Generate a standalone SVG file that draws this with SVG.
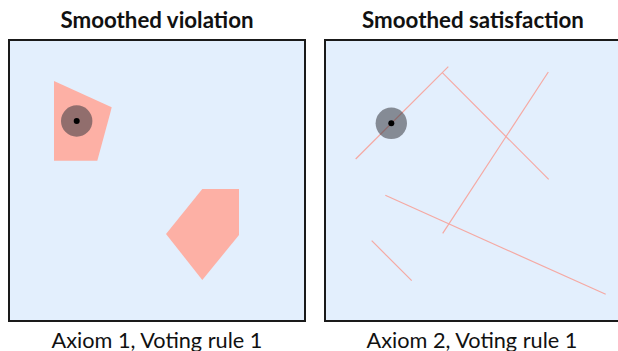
<svg xmlns="http://www.w3.org/2000/svg" width="618" height="351" viewBox="0 0 618 351">
<style>
.panel{fill:#e3effd;stroke:#1a1a1a;stroke-width:2}
.title{font-family:Lato,"Open Sans",sans-serif;font-weight:bold;font-size:22.3px;fill:#111;text-anchor:middle}
.label{font-family:Lato,"Open Sans",sans-serif;font-size:21.7px;fill:#111;text-anchor:middle}
.region{fill:#fdb0a5}
.seg{stroke:#f5a9a3;stroke-width:1.2;fill:none}
.halo{fill:#383840;fill-opacity:0.55}
.dot{fill:#000}
</style>
<g id="left-panel">
<rect class="panel" x="9" y="40" width="296" height="281"/>
<text class="title" x="157" y="28.3">Smoothed violation</text>
<text class="label" x="157" y="347.7">Axiom 1, Voting rule 1</text>
</g>
<g id="left-region-1">
<polygon class="region" points="54,81 111.7,107.3 110,114 97.3,160.7 54,160.7"/>
</g>
<g id="left-region-2">
<polygon class="region" points="202.3,189 239,189 239,235 202.3,280 166,234"/>
</g>
<g id="left-point">
<circle class="halo" cx="76.7" cy="121" r="15.7"/>
<circle class="dot" cx="76.7" cy="121" r="3"/>
</g>
<g id="right-panel">
<rect class="panel" x="325" y="40" width="296" height="281"/>
<text class="title" x="473" y="28.3">Smoothed satisfaction</text>
<text class="label" x="472" y="347.7">Axiom 2, Voting rule 1</text>
</g>
<g id="connectors">
<line class="seg" x1="355.7" y1="159" x2="448.3" y2="66.7"/>
<line class="seg" x1="442.3" y1="72.7" x2="548.7" y2="179.3"/>
<line class="seg" x1="548.3" y1="72" x2="442.7" y2="233.3"/>
<line class="seg" x1="385.3" y1="195.3" x2="605.7" y2="294.3"/>
<line class="seg" x1="371.7" y1="240.7" x2="411.7" y2="280.7"/>
</g>
<g id="right-point">
<circle class="halo" cx="391.3" cy="123.3" r="15.7"/>
<circle class="dot" cx="391.3" cy="123.3" r="3"/>
</g>
</svg>
